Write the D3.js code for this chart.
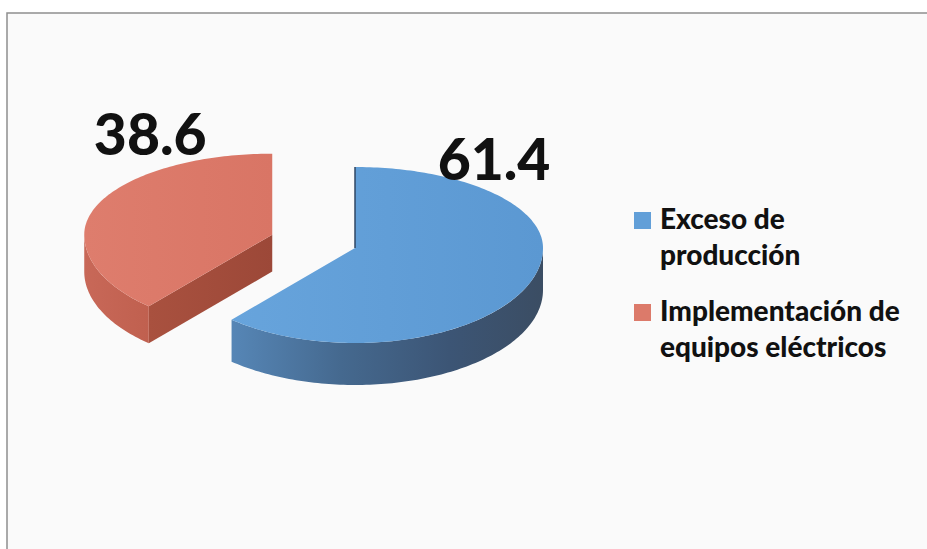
<!DOCTYPE html>
<html>
<head>
<meta charset="utf-8">
<script src="https://cdn.jsdelivr.net/npm/d3@7"></script>
<style>
  html, body { margin: 0; padding: 0; background: #ffffff; }
  svg { display: block; }
</style>
</head>
<body>
<svg id="chart" width="927" height="549"></svg>
<script>
// ---- data ----
const categories = ["Exceso de producción", "Implementación de equipos eléctricos"];
const legendLines = [["Exceso de", "producción"], ["Implementación de", "equipos eléctricos"]];
const values = [61.4, 38.6];
const labels = ["61.4", "38.6"];
const explode = [0, 0.47];

// ---- layout / style ----
const W = 927, H = 549;
const cx0 = 355, cy0 = 248;
const rx = 188, ryBack = 81, ryFront = 95, depth0 = 42;
const topColors = ["#629fd8", "#dc7a6a"];
const svg = d3.select("#chart");
const defs = svg.append("defs");

function grad(id, stops, x1 = "0%", x2 = "100%") {
  const g = defs.append("linearGradient").attr("id", id)
    .attr("x1", x1).attr("x2", x2).attr("y1", "0%").attr("y2", "0%");
  stops.forEach(s => g.append("stop").attr("offset", s[0]).attr("stop-color", s[1]));
}
grad("blueSide", [["0%", "#5686b6"], ["35%", "#45698f"], ["70%", "#3c5575"], ["100%", "#3b4d63"]]);
grad("blueTop", [["0%", "#67a4dc"], ["100%", "#5b98d2"]]);
grad("redTop", [["0%", "#de7d6d"], ["100%", "#d97565"]]);
grad("redOuter", [["0%", "#c86858"], ["100%", "#c0604f"]]);
grad("redInner", [["0%", "#a9513f"], ["100%", "#9c4838"]]);
const sideFill = ["url(#blueSide)", "url(#redOuter)"];
const innerFill = ["#3b5673", "url(#redInner)"];
const topFill = ["url(#blueTop)", "url(#redTop)"];

// frame
svg.append("rect").attr("x", 0).attr("y", 0).attr("width", W).attr("height", H).attr("fill", "#ffffff");
svg.append("rect").attr("x", 7).attr("y", 13).attr("width", W + 20).attr("height", H + 20)
  .attr("fill", "#fafafa").attr("stroke", "#8f8f8f").attr("stroke-width", 1.5);

// pie layout (clockwise from 12 o'clock)
const pie = d3.pie().sort(null).value(d => d).startAngle(0).endAngle(2 * Math.PI);
const arcs = pie(values);

function proj(cx, cy, a, r = 1) {
  const c = Math.cos(a);
  const ry = c > 0 ? ryBack : ryFront;
  return [cx + rx * r * Math.sin(a), cy - ry * r * c];
}
function arcPts(cx, cy, a0, a1, dy = 0) {
  const n = Math.max(2, Math.ceil(Math.abs(a1 - a0) / 0.02));
  return d3.range(n + 1).map(i => {
    const p = proj(cx, cy, a0 + (a1 - a0) * i / n);
    return [p[0], p[1] + dy];
  });
}
const line = d3.line();

// draw back (exploded, further) slices first
const order = arcs.map((d, i) => i).sort((a, b) => explode[b] - explode[a]);

order.forEach(i => {
  const d = arcs[i];
  const mid = (d.startAngle + d.endAngle) / 2;
  const off = proj(0, 0, mid, explode[i]);
  const cx = cx0 + off[0], cy = cy0 + off[1];
  const depth = depth0 * (1 + (cy - cy0) * 0.009);
  const g = svg.append("g");

  // inner face at start edge
  if (Math.sin(d.startAngle) < -1e-6) {
    const p = proj(cx, cy, d.startAngle);
    g.append("path").attr("d", line([[cx, cy], p, [p[0], p[1] + depth], [cx, cy + depth]]) + "Z")
      .attr("fill", innerFill[i]);
  }
  // inner face at end edge
  if (Math.sin(d.endAngle) > 1e-6) {
    const p = proj(cx, cy, d.endAngle);
    g.append("path").attr("d", line([[cx, cy], p, [p[0], p[1] + depth], [cx, cy + depth]]) + "Z")
      .attr("fill", innerFill[i]);
  }
  // outer curved side (front half only: angles between PI/2 and 3PI/2)
  const s0 = Math.max(d.startAngle, Math.PI / 2), s1 = Math.min(d.endAngle, 3 * Math.PI / 2);
  if (s1 > s0) {
    const topPts = arcPts(cx, cy, s0, s1);
    const botPts = arcPts(cx, cy, s1, s0, depth);
    g.append("path").attr("d", line(topPts.concat(botPts)) + "Z").attr("fill", sideFill[i]);
  }
  // top face
  const pts = [[cx, cy]].concat(arcPts(cx, cy, d.startAngle, d.endAngle));
  g.append("path").attr("d", line(pts) + "Z").attr("fill", topFill[i]);
  // thin edge-on line for the start edge of the main slice
  if (Math.abs(Math.sin(d.startAngle)) < 1e-6 && explode[i] === 0) {
    const p = proj(cx, cy, d.startAngle);
    g.append("line").attr("x1", cx).attr("y1", cy).attr("x2", p[0]).attr("y2", p[1])
      .attr("stroke", "#2f4663").attr("stroke-width", 1.5);
  }
  d.cx = cx; d.cy = cy;
});

// data labels
const labelOffsets = [[139, -68], [-122, -80]];
arcs.forEach((d, i) => {
  svg.append("text")
    .attr("x", d.cx + labelOffsets[i][0]).attr("y", d.cy + labelOffsets[i][1])
    .attr("text-anchor", "middle")
    .attr("font-family", "Lato, 'Open Sans', sans-serif")
    .attr("font-weight", 900)
    .attr("font-size", 57)
    .attr("fill", "#111111")
    .text(labels[i]);
});

// legend
const legX = 634, legTop = [212, 304], lineGap = 36;
categories.forEach((c, i) => {
  svg.append("rect").attr("x", legX).attr("y", legTop[i]).attr("width", 17).attr("height", 17)
    .attr("fill", topColors[i]);
  legendLines[i].forEach((t, j) => {
    svg.append("text")
      .attr("x", legX + 26).attr("y", legTop[i] + 17 + j * lineGap)
      .attr("font-family", "Lato, 'Open Sans', sans-serif")
      .attr("font-weight", 900)
      .attr("font-size", 28)
      .attr("fill", "#111111")
      .text(t);
  });
});
</script>
</body>
</html>
